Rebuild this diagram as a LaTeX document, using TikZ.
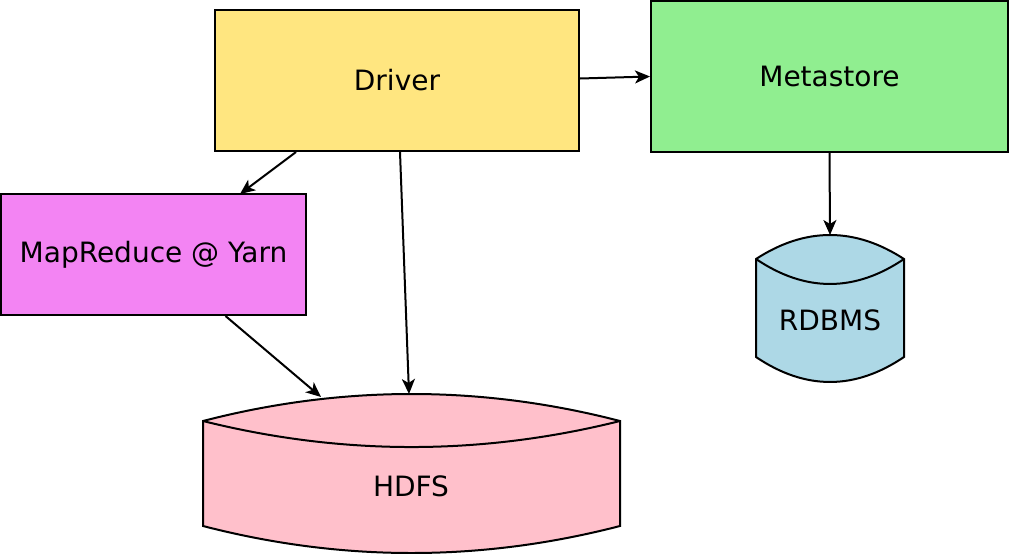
\documentclass[tikz,border=0pt]{standalone}
\usepackage{fontspec}
\setmainfont{DejaVu Sans}
\usetikzlibrary{arrows.meta}
\definecolor{drivercol}{RGB}{255,230,128}
\definecolor{metacol}{RGB}{144,238,144}
\definecolor{mrcol}{RGB}{243,132,243}
\definecolor{rdbcol}{RGB}{173,216,230}
\definecolor{hdfscol}{RGB}{255,192,203}
\begin{document}
\begin{tikzpicture}[x=1pt,y=-1pt,line width=2pt,
    font=\fontsize{28}{33}\selectfont,
    box/.style={draw,inner sep=0pt},
    link/.style={-{Stealth[length=15pt,width=13pt,inset=4pt]},line width=2pt}]
    \useasboundingbox (0,0) rectangle (1009,554);
    \node [box,fill=drivercol,minimum width=364pt,minimum height=141pt] (driver) at (397,80.5) {Driver};
    \node [box,fill=metacol,minimum width=357pt,minimum height=151pt] (meta) at (829.5,76.5) {Metastore};
    \node [box,fill=mrcol,minimum width=305pt,minimum height=121pt] (mr) at (153.5,254.5) {MapReduce @ Yarn};
    % RDBMS cylinder
    \filldraw [fill=rdbcol] (756,259) .. controls (805.3,227) and (854.7,227) .. (904,259)
        -- (904,357) .. controls (854.7,390.3) and (805.3,390.3) .. (756,357) -- cycle;
    \draw (756,259) .. controls (805.3,292.3) and (854.7,292.3) .. (904,259);
    \node (rdbms) at (830,320) {RDBMS};
    \coordinate (rdbtop) at (830,235);
    % HDFS cylinder
    \filldraw [fill=hdfscol] (203,421) .. controls (342,385) and (481,385) .. (620,421)
        -- (620,526) .. controls (481,562) and (342,562) .. (203,526) -- cycle;
    \draw (203,421) .. controls (342,455.7) and (481,455.7) .. (620,421);
    \node (hdfs) at (411,486) {HDFS};
    \coordinate (hdfstop) at (409,394);
    \coordinate (hdfsleft) at (321,397);
    \draw [link] (driver.east) ++(0,-2) -- (meta.west);
    \draw [link] (driver.south west) ++(82,0) -- (240,194) coordinate (mrtop);
    \draw [link] (driver.south) ++(3,0) -- (hdfstop);
    \draw [link] (mr.south) ++(72,0) -- (hdfsleft);
    \draw [link] (meta.south) -- (rdbtop);
\end{tikzpicture}
\end{document}
